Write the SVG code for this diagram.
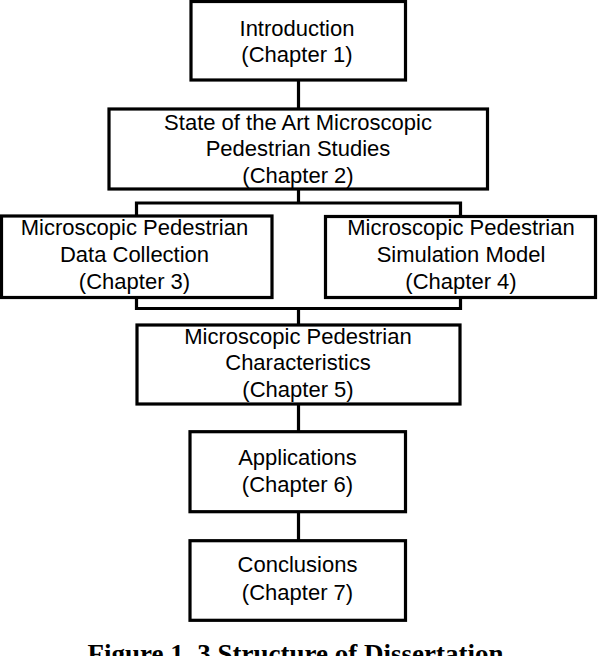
<svg xmlns="http://www.w3.org/2000/svg" width="598" height="656" viewBox="0 0 598 656">
<style>
.box{fill:#fff;stroke:#000;stroke-width:3.2}
.lbl{font-family:"Liberation Sans",Arial,sans-serif;font-size:22px;fill:#000;text-anchor:middle}
.con{fill:none;stroke:#000;stroke-width:3.2}
.cap{font-family:"Liberation Serif","Times New Roman",serif;font-size:27px;font-weight:bold;fill:#000;text-anchor:middle}
</style>
<rect width="598" height="656" fill="#fff"/>
<g id="connectors">
<path class="con" d="M298.5 80V109"/>
<path class="con" d="M298.5 189V203"/>
<path class="con" d="M136.5 216V203H460.5V216.5"/>
<path class="con" d="M136.5 297.5V308.5H460.5V297.5"/>
<path class="con" d="M298.5 308.5V325"/>
<path class="con" d="M298.5 404V431.7"/>
<path class="con" d="M298.5 511.7V540.7"/>
</g>
<g id="n1">
<rect class="box" x="191" y="1.5" width="214.5" height="78.5"/>
<text class="lbl" x="297"><tspan x="297" y="35.5">Introduction</tspan><tspan x="297" y="62">(Chapter 1)</tspan></text>
</g>
<g id="n2">
<rect class="box" x="109" y="109" width="378.5" height="80"/>
<text class="lbl"><tspan x="298" y="129.5">State of the Art Microscopic</tspan><tspan x="298" y="156">Pedestrian Studies</tspan><tspan x="298" y="182.5">(Chapter 2)</tspan></text>
</g>
<g id="n3">
<rect class="box" x="1.5" y="216" width="270.5" height="81.5"/>
<text class="lbl"><tspan x="134.5" y="234.5">Microscopic Pedestrian</tspan><tspan x="134.5" y="261.5">Data Collection</tspan><tspan x="134.5" y="289">(Chapter 3)</tspan></text>
</g>
<g id="n4">
<rect class="box" x="325.5" y="216.5" width="270" height="81"/>
<text class="lbl"><tspan x="461" y="234.5">Microscopic Pedestrian</tspan><tspan x="461" y="261.5">Simulation Model</tspan><tspan x="461" y="289">(Chapter 4)</tspan></text>
</g>
<g id="n5">
<rect class="box" x="137" y="325" width="323" height="79"/>
<text class="lbl"><tspan x="298" y="343.5">Microscopic Pedestrian</tspan><tspan x="298" y="370">Characteristics</tspan><tspan x="298" y="396.5">(Chapter 5)</tspan></text>
</g>
<g id="n6">
<rect class="box" x="190" y="431.7" width="215.5" height="80"/>
<text class="lbl"><tspan x="297.5" y="465">Applications</tspan><tspan x="297.5" y="492">(Chapter 6)</tspan></text>
</g>
<g id="n7">
<rect class="box" x="190" y="540.7" width="215.5" height="79.6"/>
<text class="lbl"><tspan x="297.5" y="572">Conclusions</tspan><tspan x="297.5" y="599.5">(Chapter 7)</tspan></text>
</g>
<text class="cap" x="295.5" y="663">Figure 1. 3 Structure of Dissertation</text>
</svg>
